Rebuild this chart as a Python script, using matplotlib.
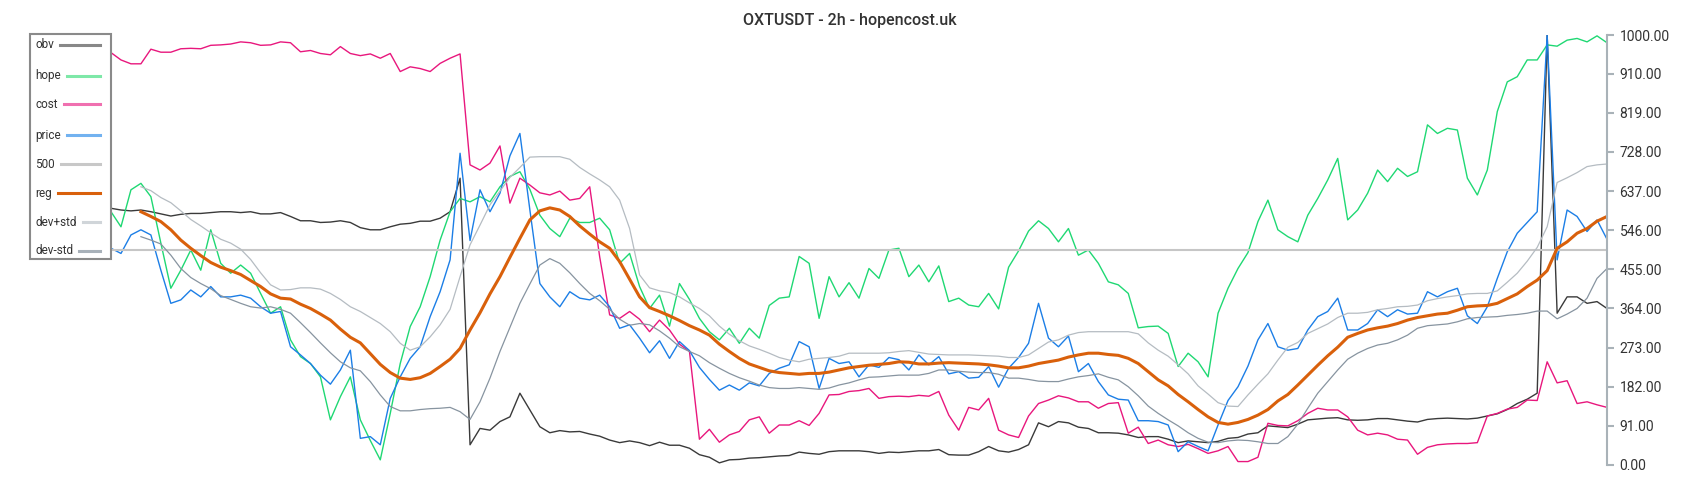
import numpy as np
import matplotlib
matplotlib.use("Agg")
import matplotlib.pyplot as plt
from matplotlib.lines import Line2D
from matplotlib.patches import Rectangle

plt.rcParams['font.family'] = ['Roboto', 'DejaVu Sans']

nan = np.nan

TITLE = "OXTUSDT - 2h - hopencost.uk"
Y_TICKS = [0, 91, 182, 273, 364, 455, 546, 637, 728, 819, 910, 1000]
LEVEL = 500

# series values, 0..1000 scale, one point every bar
obv = [597, 593, 591, 593, 589, 584, 579, 583, 585, 585, 587, 589, 589, 587, 589, 584, 584, 587, 578, 568, 568, 564, 565, 568, 564,
       552, 547, 547, 554, 560, 562, 567, 567, 574, 589, 667, 47, 85, 81, 101, 112, 167, 128, 89, 75, 80, 77, 78, 72, 67,
       58, 52, 56, 52, 45, 53, 46, 46, 39, 24, 18, 5, 12, 13, 16, 17, 19, 21, 22, 30, 27, 25, 31, 33, 33,
       33, 31, 27, 30, 29, 31, 33, 33, 36, 24, 23, 23, 31, 43, 33, 30, 36, 47, 98, 89, 101, 98, 88, 85, 75,
       75, 74, 70, 64, 66, 66, 60, 52, 56, 54, 52, 55, 62, 64, 72, 75, 91, 89, 87, 95, 105, 107, 109, 110, 105,
       104, 105, 108, 108, 105, 102, 100, 106, 108, 109, 108, 107, 109, 114, 119, 129, 143, 153, 167, 1000, 353, 391, 391, 376, 380, 364]

hope = [589, 554, 640, 655, 624, 516, 411, 453, 500, 453, 547, 469, 446, 465, 446, 399, 353, 368, 291, 252, 236, 205, 105, 159, 205,
        105, 57, 12, 120, 236, 322, 368, 438, 523, 589, 620, 612, 624, 612, 647, 671, 682, 641, 581, 550, 531, 574, 564, 564, 574,
        547, 469, 492, 415, 364, 395, 323, 422, 385, 341, 310, 291, 318, 283, 318, 295, 371, 388, 391, 485, 469, 341, 438, 391, 424,
        388, 457, 434, 500, 504, 438, 465, 426, 463, 380, 388, 372, 368, 399, 363, 460, 498, 544, 568, 550, 519, 550, 488, 500, 469,
        426, 419, 399, 319, 322, 323, 306, 229, 260, 240, 205, 353, 411, 457, 494, 566, 616, 547, 531, 519, 581, 620, 663, 713, 570,
        593, 632, 686, 659, 690, 671, 682, 791, 771, 783, 779, 667, 628, 686, 822, 891, 903, 942, 942, 977, 974, 988, 992, 984, 998, 982]

cost = [959, 942, 933, 933, 967, 960, 960, 968, 969, 968, 976, 977, 979, 984, 982, 976, 977, 984, 982, 961, 964, 957, 954, 973, 957,
        952, 956, 946, 957, 915, 926, 922, 915, 934, 946, 956, 698, 686, 702, 742, 609, 667, 651, 633, 628, 637, 616, 620, 647, 484,
        349, 341, 357, 339, 310, 337, 314, 281, 264, 60, 83, 53, 70, 78, 105, 112, 74, 93, 93, 103, 92, 120, 163, 164, 171,
        173, 178, 155, 159, 160, 159, 162, 160, 171, 116, 81, 134, 128, 155, 81, 70, 64, 114, 143, 151, 161, 156, 147, 147, 132,
        143, 145, 74, 88, 50, 58, 47, 43, 48, 38, 27, 33, 43, 8, 8, 18, 97, 92, 91, 103, 120, 132, 128, 128, 112,
        81, 70, 74, 70, 60, 58, 25, 41, 47, 49, 50, 50, 52, 114, 120, 130, 134, 151, 150, 240, 191, 196, 143, 147, 140, 134]

price = [504, 492, 535, 547, 535, 453, 376, 384, 407, 391, 415, 391, 391, 395, 388, 368, 353, 357, 275, 256, 236, 209, 188, 221, 267,
         62, 66, 47, 155, 205, 248, 275, 345, 403, 477, 725, 522, 640, 589, 632, 719, 771, 593, 422, 391, 368, 403, 388, 384, 395,
         368, 318, 326, 295, 261, 289, 248, 287, 266, 227, 199, 174, 186, 174, 191, 184, 213, 225, 233, 287, 275, 178, 248, 236, 240,
         205, 233, 227, 250, 245, 221, 256, 233, 252, 212, 217, 202, 204, 229, 181, 225, 250, 283, 376, 295, 275, 300, 217, 236, 194,
         163, 153, 151, 103, 103, 101, 93, 31, 54, 43, 33, 93, 150, 182, 230, 291, 329, 275, 267, 271, 314, 345, 357, 388, 314,
         314, 329, 361, 345, 361, 351, 353, 403, 391, 403, 411, 347, 329, 368, 434, 496, 539, 564, 589, 1000, 477, 593, 578, 543, 570, 525]

reg = [nan, nan, nan, 589, 578, 566, 547, 523, 504, 487, 471, 460, 452, 443, 429, 415, 398, 388, 386, 374, 364, 351, 337, 316, 297,
       284, 259, 234, 215, 202, 199, 203, 213, 229, 246, 271, 314, 354, 398, 438, 483, 527, 570, 591, 598, 593, 578, 556, 537, 519,
       504, 473, 432, 391, 366, 357, 347, 336, 324, 314, 302, 281, 264, 248, 235, 227, 219, 215, 213, 211, 213, 213, 216, 221, 226,
       229, 232, 234, 236, 240, 239, 235, 235, 237, 238, 237, 236, 235, 233, 230, 226, 226, 230, 236, 240, 244, 251, 256, 260, 260,
       257, 255, 248, 236, 217, 198, 184, 164, 147, 129, 112, 99, 95, 99, 106, 116, 129, 149, 164, 186, 209, 232, 254, 274, 297,
       306, 314, 319, 323, 329, 337, 343, 347, 351, 353, 360, 368, 370, 371, 376, 387, 398, 415, 430, 452, 504, 519, 539, 550, 567, 578]

dev_plus = [nan, nan, nan, 647, 638, 622, 610, 591, 571, 556, 540, 525, 516, 502, 478, 447, 419, 407, 408, 412, 412, 409, 399, 385, 368,
            357, 343, 329, 310, 283, 267, 275, 298, 326, 362, 438, 512, 558, 605, 637, 669, 692, 716, 717, 717, 717, 711, 692, 677, 663,
            647, 616, 550, 442, 412, 405, 401, 391, 377, 364, 347, 323, 304, 289, 277, 269, 260, 250, 244, 240, 246, 248, 250, 253, 260,
            260, 260, 260, 261, 264, 266, 262, 258, 257, 256, 256, 256, 255, 254, 253, 250, 250, 256, 271, 286, 291, 302, 308, 310, 310,
            310, 310, 310, 305, 284, 267, 253, 233, 212, 184, 165, 145, 137, 136, 163, 188, 212, 244, 274, 285, 306, 317, 328, 343, 353,
            353, 355, 361, 364, 368, 369, 372, 382, 387, 391, 394, 398, 399, 399, 405, 425, 446, 474, 506, 554, 657, 668, 680, 694, 698, 700]

dev_minus = [nan, nan, nan, 531, 523, 514, 488, 457, 436, 422, 410, 394, 385, 376, 368, 365, 368, 362, 353, 331, 308, 284, 261, 240, 226,
             219, 194, 163, 136, 126, 126, 129, 131, 132, 134, 124, 106, 147, 202, 264, 320, 376, 421, 465, 480, 469, 447, 422, 399, 382,
             362, 339, 325, 329, 326, 312, 295, 275, 264, 254, 238, 225, 213, 203, 195, 186, 180, 178, 178, 180, 178, 176, 179, 186, 191,
             198, 204, 205, 207, 209, 209, 209, 213, 221, 221, 218, 216, 215, 215, 211, 202, 202, 199, 195, 194, 194, 200, 205, 208, 212,
             204, 198, 182, 161, 137, 120, 105, 91, 75, 62, 53, 52, 56, 58, 57, 54, 50, 50, 66, 95, 132, 167, 194, 221, 246,
             260, 271, 279, 283, 291, 302, 318, 324, 326, 328, 333, 340, 343, 344, 345, 348, 350, 353, 358, 358, 340, 351, 364, 388, 434, 457]

W, H = 1700, 500
fig = plt.figure(figsize=(W / 100, H / 100), dpi=100)
ax = fig.add_axes([111 / W, 35 / H, 1496 / W, 430 / H])

x = np.arange(len(price))
ax.plot(x, obv, color='#3a3a3a', lw=1.0)
ax.plot(x, hope, color='#1fd873', lw=1.0)
ax.plot(x, cost, color='#e8177d', lw=1.0)
ax.plot(x, price, color='#1c7ee6', lw=1.0)
ax.axhline(LEVEL, color='#c6c6c6', lw=1.5)
ax.plot(x, reg, color='#d9600b', lw=2.2)
ax.plot(x, dev_plus, color='#b5bcc2', lw=0.9)
ax.plot(x, dev_minus, color='#8794a0', lw=0.9)

ax.set_xlim(0, len(price) - 1)
ax.set_ylim(0, 1000)
for s in ['top', 'left', 'bottom']:
    ax.spines[s].set_visible(False)
ax.spines['right'].set_color('#a9b2b8')
ax.spines['right'].set_linewidth(1.5)
ax.set_xticks([])
ax.yaxis.tick_right()
ax.set_yticks(Y_TICKS)
ax.set_yticklabels([f"{v:.2f}" for v in Y_TICKS])
ax.tick_params(axis='y', length=5, width=1.5, color='#a9b2b8',
               labelcolor='#333333', labelsize=10, pad=4)

fig.text(850 / W, 1 - 20 / H, TITLE, ha='center', va='center',
         fontsize=11.5, color='#333333', fontweight='medium')

# legend drawn by hand: label on the left, sample line on the right
box = Rectangle((30 / W, 1 - 259 / H), 81 / W, 225 / H, transform=fig.transFigure,
                facecolor='white', edgecolor='#8a8a8a', lw=1.5, zorder=5)
fig.add_artist(box)
leg_labels = ['obv', 'hope', 'cost', 'price', '500', 'reg', 'dev+std', 'dev-std']
leg_colors = ['#888888', '#7ee8a8', '#f070b0', '#72b2f0', '#c8c8c8', '#d9600b', '#d0d5d9', '#a8b1b9']
leg_rows = [45, 76, 104, 135, 164, 193, 222, 251]
renderer = fig.canvas.get_renderer()
for lab, col, yy in zip(leg_labels, leg_colors, leg_rows):
    t = fig.text(35 / W, 1 - yy / H, lab, ha='left', va='center', fontsize=8.5,
                 color='#333333', zorder=6)
    x1 = t.get_window_extent(renderer).x1
    fig.add_artist(Line2D([(x1 + 6) / W, 100 / W], [1 - yy / H, 1 - yy / H],
                          transform=fig.transFigure, color=col, lw=2.2, zorder=6))

fig.savefig('out.png', dpi=100)
